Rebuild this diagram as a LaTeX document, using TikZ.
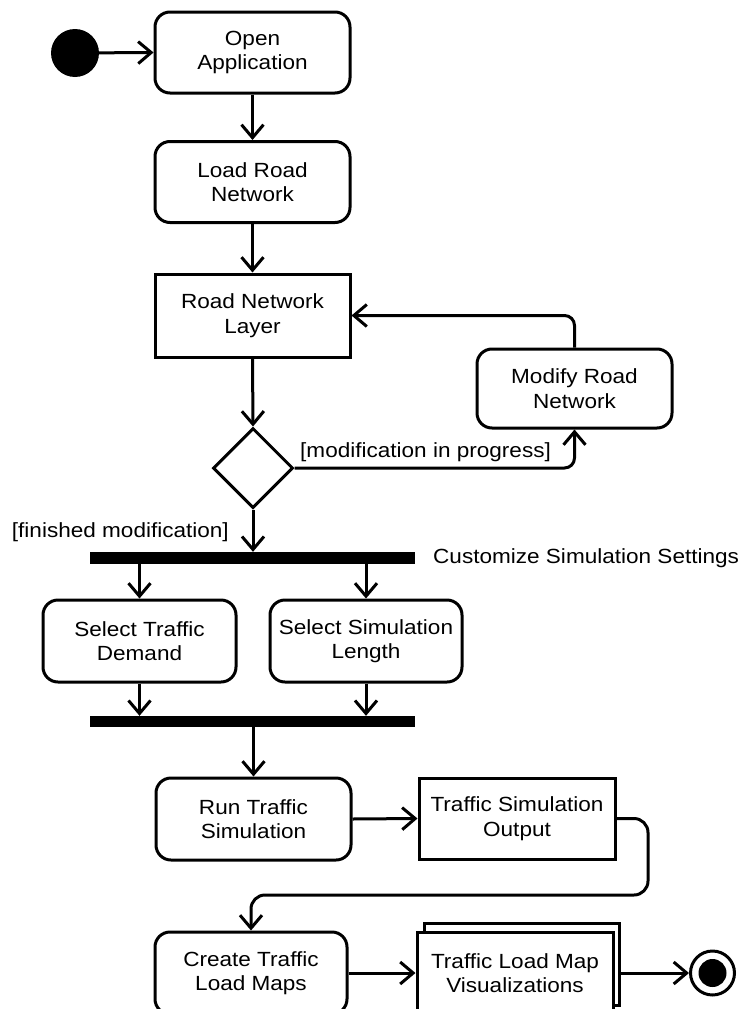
\documentclass[tikz,border=0pt]{standalone}
\usepackage{fontspec}
\setmainfont[FakeStretch=1.1]{Liberation Sans}
\usetikzlibrary{arrows.meta,shapes.geometric,calc}
\begin{document}
\begin{tikzpicture}[x=1pt,y=-1pt,
  every node/.style={font=\fontsize{20.5}{24.5}\selectfont},
  act/.style={draw, line width=3pt, rounded corners=15pt, minimum width=195pt, minimum height=81pt, align=center, inner sep=0pt},
  obj/.style={draw, line width=3pt, minimum width=195pt, minimum height=81pt, align=center, inner sep=0pt},
  bar/.style={fill=black, minimum width=325pt, minimum height=12pt, inner sep=0pt},
  arr/.style={line width=3pt, -{Straight Barb[length=13pt,width=22pt]}},
  guard/.style={inner sep=0pt}
  ]
\useasboundingbox (0,0) rectangle (739,1009);
% nodes
\node[circle, fill=black, minimum size=48pt, inner sep=0pt] (start) at (75,53) {};
\node[act] (open) at (252.5,52.5) {Open\\Application};
\node[act] (load) at (252.5,182) {Load Road\\Network};
\node[obj, minimum height=83pt] (layer) at (252.5,315.5) {Road Network\\Layer};
\node[act, minimum height=79pt] (modify) at (574.5,388.5) {Modify Road\\Network};
\node[diamond, draw, line width=3pt, minimum width=80pt, minimum height=80pt, inner sep=0pt] (dec) at (253,468) {};
\node[bar] (bar1) at (252.5,558) {};
\node[guard, anchor=west] (cust) at (433,558) {Customize Simulation Settings};
\node[act, minimum width=193pt, minimum height=82pt] (sel1) at (139.5,641) {Select Traffic\\Demand};
\node[act, minimum width=192pt, minimum height=82pt] (sel2) at (366,641) {Select Simulation\\Length};
\node[bar, minimum height=11pt] (bar2) at (252.5,721.5) {};
\node[act, minimum height=82pt] (run) at (253.5,819) {Run Traffic\\Simulation};
\node[obj, minimum width=196pt] (tso) at (517,818.5) {Traffic Simulation\\Output};
\node[act, minimum width=192pt, minimum height=82pt] (create) at (251,973) {Create Traffic\\Load Maps};
\node[obj, fill=white, minimum width=195pt, minimum height=82pt] (tlmvb) at (521.5,964) {};
\node[obj, fill=white, minimum width=196pt, minimum height=82pt] (tlmv) at (515,973) {Traffic Load Map\\Visualizations};
\node[circle, draw, line width=3pt, fill=white, minimum size=44pt, inner sep=0pt] (final) at (712.5,973) {};
\node[circle, fill=black, minimum size=28pt, inner sep=0pt] (finalin) at (final.center) {};
\coordinate (bend) at (648,895);
% connectors
\draw[arr] (start) -- (open.west);
\draw[arr] (open.south) -- (load.north);
\draw[arr] (load.south) -- (layer.north);
\draw[arr] (layer.south) -- (dec.north);
\draw[arr, rounded corners=10pt] (dec.east) -| (modify.south);
\node[guard, anchor=base west] (lprog) at (300,457) {[modification in progress]};
\draw[arr, rounded corners=10pt] (modify.north) |- (layer.east);
\draw[arr] (dec.south) -- (dec.south |- bar1.north);
\node[guard, anchor=base east] (lfin) at (229,537) {[finished modification]};
\draw[arr] (bar1.south -| sel1.north) -- (sel1.north);
\draw[arr] (bar1.south -| sel2.north) -- (sel2.north);
\draw[arr] (sel1.south) -- (sel1.south |- bar2.north);
\draw[arr] (sel2.south) -- (sel2.south |- bar2.north);
\draw[arr] (bar2.south -| run.north) -- (run.north);
\draw[arr] (run.east) -- (tso.west);
\draw[arr, rounded corners=14pt] (tso.east) -| (bend) -| (create.north);
\draw[arr] (create.east) -- (tlmv.west);
\draw[arr] (tlmvb.east |- final.west) -- (final.west);
\end{tikzpicture}
\end{document}
